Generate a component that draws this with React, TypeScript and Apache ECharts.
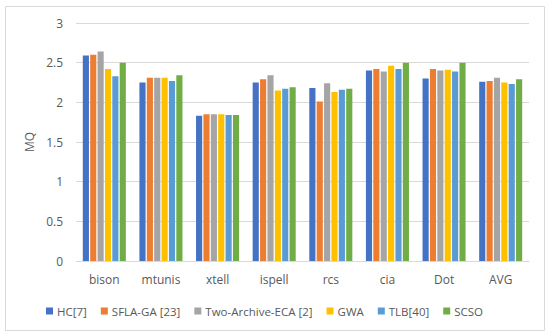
import React, { useEffect, useRef } from "react";
import * as echarts from "echarts";

const categories = ["bison", "mtunis", "xtell", "ispell", "rcs", "cia", "Dot", "AVG"];
const seriesNames = ["HC[7]", "SFLA-GA [23]", "Two-Archive-ECA [2]", "GWA", "TLB[40]", "SCSO"];
const hc = [2.59, 2.25, 1.83, 2.25, 2.18, 2.40, 2.30, 2.26];
const sflaGa = [2.60, 2.31, 1.85, 2.29, 2.01, 2.42, 2.42, 2.27];
const twoArchive = [2.64, 2.31, 1.85, 2.34, 2.24, 2.39, 2.40, 2.31];
const gwa = [2.42, 2.31, 1.85, 2.15, 2.13, 2.46, 2.41, 2.25];
const tlb = [2.33, 2.27, 1.84, 2.17, 2.16, 2.42, 2.39, 2.23];
const scso = [2.50, 2.34, 1.84, 2.19, 2.17, 2.50, 2.50, 2.29];
const seriesValues = [hc, sflaGa, twoArchive, gwa, tlb, scso];
const colors = ["#4472C4", "#ED7D31", "#A5A5A5", "#FFC000", "#5B9BD5", "#70AD47"];

export default function App() {
  const ref = useRef<HTMLDivElement>(null);
  useEffect(() => {
    if (!ref.current) return;
    const chart = echarts.init(ref.current, undefined, { renderer: "svg" });
    const font = "Open Sans";
    chart.setOption({
      animation: false,
      backgroundColor: "#ffffff",
      color: colors,
      textStyle: { fontFamily: font },
      graphic: [
        {
          type: "rect",
          shape: { x: 5.5, y: 6.5, width: 539, height: 324 },
          style: { fill: "none", stroke: "#d9d9d9", lineWidth: 1 },
          silent: true,
        },
      ],
      grid: { left: 76, right: 21, top: 23, bottom: 74 },
      legend: {
        data: seriesNames,
        left: 41,
        top: 300,
        itemWidth: 7,
        itemHeight: 7,
        itemGap: 14,
        icon: "rect",
        textStyle: { fontSize: 11.5, color: "#595959", fontFamily: font, padding: [0, 0, 0, -1] },
      },
      xAxis: {
        type: "category",
        data: categories,
        axisLine: { lineStyle: { color: "#d9d9d9", width: 1 } },
        axisTick: { show: false },
        axisLabel: { color: "#595959", fontSize: 12, margin: 12, fontFamily: font },
      },
      yAxis: {
        type: "value",
        min: 0,
        max: 3,
        interval: 0.5,
        name: "MQ",
        nameLocation: "middle",
        nameGap: 38,
        nameTextStyle: { color: "#595959", fontSize: 12, fontFamily: font },
        axisLine: { show: false },
        axisTick: { show: false },
        axisLabel: { color: "#595959", fontSize: 12, margin: 13, fontFamily: font },
        splitLine: { lineStyle: { color: "#d9d9d9", width: 1 } },
      },
      series: seriesValues.map((vals, i) => ({
        name: seriesNames[i],
        type: "bar",
        data: vals,
        barGap: "20%",
        barCategoryGap: "24%",
        itemStyle: { color: colors[i] },
      })),
    });
    return () => chart.dispose();
  }, []);
  return (
    <div
      ref={ref}
      style={{ position: "absolute", left: 0, top: 0, width: 550, height: 335 }}
    />
  );
}
